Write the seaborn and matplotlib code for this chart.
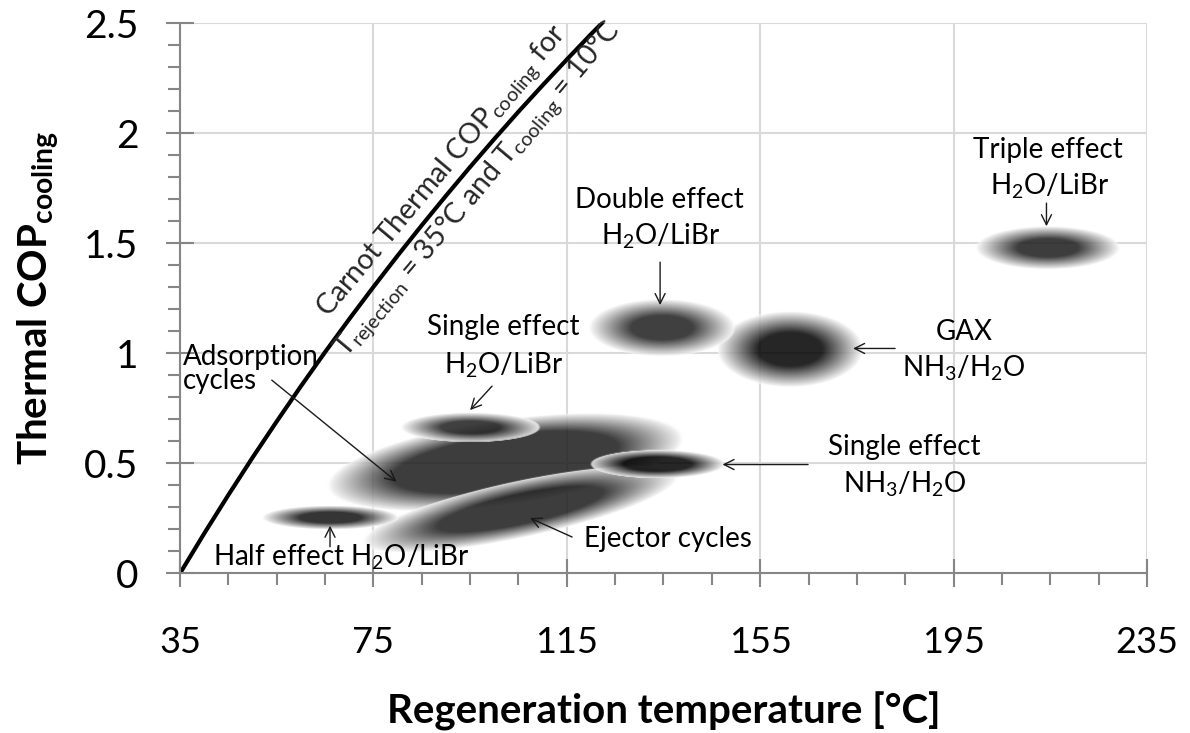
import numpy as np
import matplotlib
matplotlib.use("Agg")
import matplotlib.pyplot as plt
import seaborn as sns
from matplotlib.ticker import FixedLocator

# ---------------- data ----------------
# Carnot thermal COP (T_rejection = 35 °C, T_cooling = 10 °C)
carnot_temp = [35, 40, 45, 50, 55, 60, 65, 70, 75, 80, 85, 90, 95, 100,
               105, 110, 115, 120, 125]
carnot_cop = [0.0, 0.181, 0.356, 0.526, 0.690, 0.850, 1.005, 1.155, 1.301,
              1.443, 1.581, 1.715, 1.846, 1.973, 2.097, 2.217, 2.334, 2.449,
              2.560]

# technology regions (fuzzy ellipses), drawing order
blob_names = ["Adsorption cycles", "Ejector cycles", "Half effect H2O/LiBr",
              "Single effect H2O/LiBr", "Single effect NH3/H2O", "GAX NH3/H2O",
              "Double effect H2O/LiBr", "Triple effect H2O/LiBr"]
blob_temp = [102.2, 105.3, 66.0, 95.0, 133.7, 161.1, 134.6, 214.4]
blob_cop = [0.502, 0.288, 0.250, 0.660, 0.493, 1.015, 1.113, 1.476]
blob_half_temp = [37.4, 33.5, 14.2, 14.5, 14.0, 15.2, 15.2, 15.0]
blob_half_cop = [0.195, 0.130, 0.055, 0.068, 0.065, 0.174, 0.131, 0.099]
blob_angle = [8, 12, 0, 0, 0, 0, 0, 0]
blob_core = [0.63, 0.52, 0.45, 0.42, 0.50, 0.44, 0.42, 0.42]
blob_shade = [0.24, 0.24, 0.21, 0.25, 0.15, 0.15, 0.25, 0.24]

x_ticks = [35, 75, 115, 155, 195, 235]
y_ticks = [0, 0.5, 1, 1.5, 2, 2.5]
y_tick_labels = ["0", "0.5", "1", "1.5", "2", "2.5"]

# ---------------- style ----------------
sns.set_theme(style="white")
plt.rcParams["font.family"] = ["Lato", "DejaVu Sans"]
plt.rcParams["mathtext.fontset"] = "custom"
plt.rcParams["mathtext.rm"] = "Lato"
plt.rcParams["mathtext.it"] = "Lato:italic"
plt.rcParams["mathtext.bf"] = "Lato:bold"

fig = plt.figure(figsize=(11.9, 7.33), dpi=100)
fig.patch.set_facecolor("white")
ax_rect = [0.1512, 0.2176, 0.8127, 0.7510]
ax = fig.add_axes(ax_rect)
ax.set_facecolor("white")
xmin, xmax, ymin, ymax = 35, 235, 0, 2.5
ax.set_xlim(xmin, xmax)
ax.set_ylim(ymin, ymax)

# pixel scale of the axes
W = int(round(ax_rect[2] * 1190))
H = int(round(ax_rect[3] * 733))
sx = W / (xmax - xmin)
sy = H / (ymax - ymin)

xs = np.linspace(xmin, xmax, W)
ys = np.linspace(ymin, ymax, H)
X, Y = np.meshgrid(xs, ys)

A = 0.86
for cx, cy, a, b, ang, core, shade in zip(blob_temp, blob_cop, blob_half_temp,
                                         blob_half_cop, blob_angle, blob_core,
                                         blob_shade):
    th = np.deg2rad(ang)
    dx = (X - cx) * sx
    dy = (Y - cy) * sy
    u = dx * np.cos(th) + dy * np.sin(th)
    v = -dx * np.sin(th) + dy * np.cos(th)
    r = np.sqrt((u / (a * sx)) ** 2 + (v / (b * sy)) ** 2)
    v0 = max((shade - (1 - A)) / A, 0.0)
    t = np.clip((r - core) / (1 - core), 0, 1)
    gray = v0 + (1 - v0) * t
    alpha = A * np.clip((1 - r) / 0.03, 0, 1)
    rgba = np.dstack([gray, gray, gray, alpha])
    ax.imshow(rgba, extent=(xmin, xmax, ymin, ymax), origin="lower",
              aspect="auto", interpolation="bilinear", zorder=1)

ax.set_xlim(xmin, xmax)
ax.set_ylim(ymin, ymax)

# Carnot curve
sns.lineplot(x=carnot_temp, y=carnot_cop, ax=ax, color="black",
             linewidth=3.0, zorder=3)

# grid, spines, ticks
ax.set_axisbelow(True)
ax.grid(True, which="major", color="#d9d9d9", linewidth=1.5)
for s in ["top", "right"]:
    ax.spines[s].set_visible(False)
for s in ["left", "bottom"]:
    ax.spines[s].set_color("#868686")
    ax.spines[s].set_linewidth(1.5)
    ax.spines[s].set_zorder(4)

ax.set_xticks(x_ticks)
ax.set_xticklabels([str(t) for t in x_ticks])
ax.set_yticks(y_ticks)
ax.set_yticklabels(y_tick_labels)
ax.xaxis.set_minor_locator(FixedLocator(np.arange(35, 236, 10)))
ax.yaxis.set_minor_locator(FixedLocator(np.arange(0, 2.51, 0.1)))
ax.tick_params(which="major", direction="inout", length=20, width=1.5,
               color="#868686", labelcolor="black")
ax.tick_params(which="minor", direction="out", length=8.5, width=1.5,
               color="#868686")
ax.tick_params(axis="x", which="major", pad=28, labelsize=26)
ax.tick_params(axis="y", which="major", pad=20, labelsize=28)
ax.tick_params(which="both", bottom=True, left=True, top=False, right=False)

ax.set_xlabel("Regeneration temperature [°C]", fontsize=29, fontweight="bold",
              color="black")
ax.xaxis.set_label_coords(0.5, -0.215)
ax.set_ylabel(r"Thermal COP$_{\mathbf{cooling}}$", fontsize=29,
              fontweight="bold", color="black")
ax.yaxis.set_label_coords(-0.124, 0.5)

# Carnot labels
ax.text(89.2, 1.827, r"Carnot Thermal COP$_{\mathrm{cooling}}$ for",
        rotation=50, rotation_mode="anchor", ha="center", va="center",
        fontsize=20.5, zorder=5)
ax.text(96.65, 1.741,
        r"T$_{\mathrm{rejection}}$ = 35°C and T$_{\mathrm{cooling}}$ = 10°C",
        rotation=50, rotation_mode="anchor", ha="center", va="center",
        fontsize=20.5, zorder=5)

# annotation texts
fs = 20
lines = [
    ("Adsorption", 35.64, 0.9465, "left"),
    ("cycles", 35.64, 0.8375, "left"),
    ("Single effect", 101.8, 1.0826, "center"),
    (r"H$_2$O/LiBr", 102.0, 0.9102, "center"),
    ("Double effect", 134.2, 1.662, "center"),
    (r"H$_2$O/LiBr", 134.3, 1.496, "center"),
    ("Triple effect", 214.5, 1.889, "center"),
    (r"H$_2$O/LiBr", 214.9, 1.721, "center"),
    ("GAX", 197.2, 1.060, "center"),
    (r"NH$_3$/H$_2$O", 197.0, 0.8965, "center"),
    ("Single effect", 184.75, 0.5379, "center"),
    (r"NH$_3$/H$_2$O", 184.9, 0.3668, "center"),
    ("Ejector cycles", 118.6, 0.1217, "left"),
    (r"Half effect H$_2$O/LiBr", 68.46, 0.0354, "center"),
]
for s, x, y, ha in lines:
    ax.text(x, y, s, ha=ha, va="baseline", fontsize=fs, color="black",
            zorder=5)

arrows = [
    ((54.0, 0.878), (79.8, 0.417)),
    ((99.55, 0.851), (95.0, 0.742)),
    ((134.3, 1.414), (134.3, 1.219)),
    ((214.2, 1.682), (214.2, 1.577)),
    ((182.9, 1.022), (174.2, 1.022)),
    ((164.9, 0.4948), (147.2, 0.4948)),
    ((116.1, 0.1657), (107.4, 0.2519)),
    ((66.04, 0.1217), (66.04, 0.217)),
]
for tail, head in arrows:
    ax.annotate("", xy=head, xytext=tail,
                arrowprops=dict(arrowstyle="->", color="#1a1a1a", lw=1.0,
                                shrinkA=0, shrinkB=0, mutation_scale=18),
                zorder=5)

fig.savefig("out.png", dpi=100, facecolor="white")
